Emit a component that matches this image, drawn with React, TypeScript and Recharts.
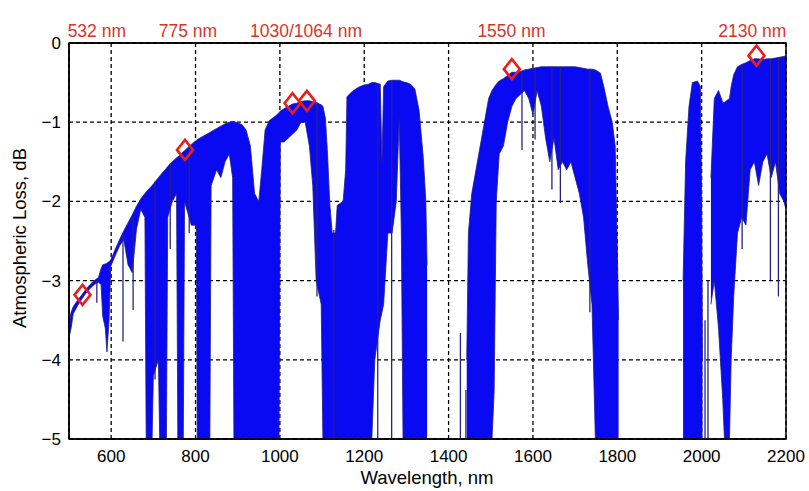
import React from "react";
import {
  Area,
  CartesianGrid,
  ComposedChart,
  ReferenceArea,
  ReferenceLine,
  Scatter,
  XAxis,
  YAxis,
} from "recharts";

// spectrum envelope (null = no trace)
const wavelength = [
  500, 505, 510, 520, 532, 540, 550, 560, 570, 576,
  580, 586, 590, 595, 599, 610, 620, 630, 640, 650,
  660, 670, 680, 683, 697, 700, 712, 715, 731, 734,
  745, 755, 758, 771, 774, 790, 802, 804, 834, 837,
  850, 860, 870, 880, 888, 891, 900, 910, 920, 930,
  940, 950, 957, 965, 975, 990, 998, 1001, 1010, 1020,
  1030, 1040, 1050, 1060, 1070, 1078, 1086, 1098, 1102, 1108,
  1113, 1118, 1124, 1132, 1136, 1150, 1156, 1159, 1170, 1180,
  1190, 1200, 1210, 1218, 1225, 1238, 1242, 1246, 1256, 1266,
  1276, 1283, 1288, 1292, 1300, 1310, 1320, 1330, 1340, 1346,
  1349, 1400,
  1443, 1447, 1455, 1465, 1475, 1485, 1495, 1503, 1508, 1513,
  1520, 1530, 1540, 1550, 1560, 1570, 1580, 1590, 1600, 1610,
  1620, 1630, 1640, 1650, 1660, 1670, 1680, 1690, 1700, 1710,
  1720, 1730, 1740, 1748, 1760, 1768, 1778, 1788, 1795, 1800,
  1803, 1880,
  1956, 1962, 1970, 1978, 1990, 1997, 2000, 2002, 2010, 2022,
  2030, 2040, 2050, 2054, 2066, 2070, 2076, 2085, 2095, 2105,
  2115, 2125, 2135, 2145, 2155, 2165, 2175, 2185, 2195, 2200,
];
const upper = [
  -3.55, -3.4, -3.33, -3.25, -3.17, -3.11, -3.05, -3.0, -2.96, -2.85,
  -2.8, -2.79, -2.78, -2.76, -2.74, -2.6, -2.48, -2.37, -2.27, -2.17,
  -2.06, -1.97, -1.9, -1.88, -1.8, -1.78, -1.7, -1.68, -1.58, -1.56,
  -1.5, -1.45, -1.44, -1.37, -1.36, -1.28, -1.23, -1.22, -1.13, -1.12,
  -1.08, -1.05, -1.02, -1.0, -0.99, -0.99, -1.01, -1.03, -1.1, -1.3,
  -1.9, -2.0, -1.6, -1.1, -0.98, -0.92, -0.88, -0.86, -0.83, -0.8,
  -0.77, -0.76, -0.74, -0.73, -0.73, -0.74, -0.75, -0.78, -0.8, -0.95,
  -1.4, -2.0, -2.4, -2.4, -2.05, -2.0, -1.6, -0.68, -0.62, -0.58,
  -0.55, -0.53, -0.52, -0.5, -0.5, -0.52, -1.5, -0.55, -0.48, -0.47,
  -0.47, -0.47, -0.48, -0.49, -0.5, -0.52, -0.58, -0.85, -1.45, -2.0,
  -2.8, null,
  -4.0, -2.4, -1.9, -1.6, -1.3, -1.0, -0.7, -0.6, -0.56, -0.52,
  -0.48, -0.45, -0.41, -0.37, -0.37, -0.36, -0.34, -0.33, -0.32, -0.31,
  -0.3, -0.3, -0.3, -0.3, -0.3, -0.3, -0.3, -0.3, -0.3, -0.31,
  -0.32, -0.33, -0.33, -0.34, -0.38, -0.55, -0.8, -1.0, -1.3, -2.6,
  -3.5, null,
  -3.0, -1.5, -0.8, -0.5, -0.48, -0.55, -2.0, -4.0, null, -1.7,
  -0.7, -0.6, -0.75, -0.75, -0.7, -0.55, -0.4, -0.3, -0.27, -0.25,
  -0.22, -0.2, -0.2, -0.21, -0.2, -0.2, -0.19, -0.18, -0.17, -0.16,
];
const lower = [
  -3.72, -3.6, -3.42, -3.32, -3.22, -3.16, -3.1, -3.05, -3.02, -3.05,
  -3.45, -3.6, -3.9, -3.5, -2.82, -2.68, -2.56, -2.48, -2.8, -2.9,
  -2.35, -2.1, -2.2, -5, -5, -4.2, -4.0, -5, -5, -2.2,
  -2.0, -1.9, -5, -5, -2.0, -2.3, -2.3, -5, -5, -1.8,
  -1.6, -1.7, -1.5, -1.4, -1.7, -5, -5, -5, -5, -5,
  -5, -5, -5, -5, -5, -5, -5, -1.25, -1.25, -1.2,
  -1.15, -1.1, -1.0, -1.0, -1.3, -1.8, -3.0, -3.3, -5, -5,
  -5, -5, -5, -5, -5, -5, -5, -5, -5, -5,
  -5, -5, -5, -5, -4.0, -3.5, -3.4, -3.3, -2.4, -2.4,
  -2.0, -0.95, -2.4, -5, -5, -5, -5, -5, -5, -5,
  -5, null,
  -5, -5, -5, -5, -5, -5, -5, -5, -4.4, -2.0,
  -1.4, -1.3, -1.0, -0.8, -0.7, -0.65, -0.6, -0.7, -0.9, -0.6,
  -0.8, -1.2, -1.5, -1.2, -1.6, -1.5, -1.6, -1.5, -1.7, -1.9,
  -2.2, -2.8, -3.3, -5, -5, -5, -5, -5, -5, -5,
  -5, null,
  -5, -5, -5, -5, -5, -5, -5, -5, null, -3.3,
  -3.0, -3.6, -4.5, -5, -5, -4.0, -3.2, -2.4, -2.2, -2.3,
  -1.6, -1.5, -1.8, -1.5, -1.4, -1.7, -1.5, -1.9, -2.0, -2.1,
];

// single deep absorption lines
const lineWl = [566, 628, 652, 704, 740, 785, 1088, 1128, 1232, 1265, 1428, 1441, 1574, 1605, 1645, 1665, 1735, 2008, 2015, 2096, 2163, 2182];
const lineTop = [-3.0, -2.42, -2.2, -1.75, -1.52, -1.3, -0.75, -2.36, -0.52, -0.48, -3.66, -4.38, -0.36, -0.32, -0.3, -0.3, -0.33, -3.5, -3.0, -0.27, -0.2, -0.18];
const lineBottom = [-3.28, -3.77, -3.37, -4.25, -2.6, -2.4, -3.2, -5, -5, -5, -5, -5, -1.35, -1.22, -1.85, -2.02, -3.4, -5, -5, -2.6, -3.0, -3.2];

const markerWl = [532, 775, 1030, 1064, 1550, 2130];
const markerLoss = [-3.18, -1.35, -0.76, -0.73, -0.33, -0.16];

const labelAt = [566, 782, 1062, 1549, 2120];
const labelText = ["532 nm", "775 nm", "1030/1064 nm", "1550 nm", "2130 nm"];

const xTicks = [600, 800, 1000, 1200, 1400, 1600, 1800, 2000, 2200];
const yTicks = [-5, -4, -3, -2, -1, 0];

const spectrum = wavelength.map((wl, i) => ({
  wl,
  band: upper[i] == null ? null : [lower[i], upper[i]],
}));
const markers = markerWl.map((wl, i) => ({ wl, loss: markerLoss[i] }));

const Diamond = (p: any) => {
  const { cx, cy } = p;
  return (
    <polygon
      points={`${cx},${cy - 10} ${cx + 8},${cy} ${cx},${cy + 10} ${cx - 8},${cy}`}
      fill="none"
      stroke="#e8201c"
      strokeWidth={2.6}
    />
  );
};

const fmtY = (v: number) => (v < 0 ? "\u2212" + Math.abs(v) : String(v));

export default function App() {
  return (
    <div
      style={{
        position: "absolute",
        left: 0,
        top: 0,
        width: 809,
        height: 491,
        background: "#fff",
        fontFamily: "'Liberation Sans', Arial, sans-serif",
      }}
    >
      <ComposedChart
        width={809}
        height={491}
        data={spectrum}
        margin={{ top: 0, right: 23, bottom: 0, left: 29 }}
      >
        <CartesianGrid stroke="#000" strokeWidth={1.3} strokeDasharray="4 3" />
        <XAxis
          dataKey="wl"
          type="number"
          domain={[500, 2200]}
          ticks={xTicks}
          allowDataOverflow
          height={52}
          tickMargin={5}
          tickLine={false}
          axisLine={{ stroke: "#000", strokeWidth: 1.5 }}
          tick={{ fill: "#000", fontSize: 17 }}
        />
        <XAxis
          xAxisId="top"
          dataKey="wl"
          orientation="top"
          type="number"
          domain={[500, 2200]}
          ticks={labelAt}
          interval={0}
          allowDataOverflow
          height={43}
          tickMargin={0}
          tickLine={false}
          axisLine={{ stroke: "#000", strokeWidth: 1.5 }}
          tickFormatter={(v: number) => labelText[labelAt.indexOf(v)]}
          tick={{ fill: "#d8342a", fontSize: 17.5 }}
        />
        <YAxis
          type="number"
          domain={[-5, 0]}
          ticks={yTicks}
          allowDataOverflow
          width={40}
          tickLine={false}
          axisLine={{ stroke: "#000", strokeWidth: 1.5 }}
          tickFormatter={fmtY}
          tick={{ fill: "#000", fontSize: 17 }}
        />
        <Area
          dataKey="band"
          type="linear"
          fill="#0a0af2"
          fillOpacity={1}
          stroke="#1c1c8c"
          strokeWidth={0.8}
          isAnimationActive={false}
        />
        {lineWl.map((wl, i) => (
          <ReferenceLine
            key={wl}
            segment={[
              { x: wl, y: lineTop[i] },
              { x: wl, y: lineBottom[i] },
            ]}
            stroke="#26267e"
            strokeWidth={1.3}
          />
        ))}
        <Scatter
          xAxisId="top"
          data={markers}
          dataKey="loss"
          shape={<Diamond />}
          isAnimationActive={false}
        />
        <ReferenceArea x1={500} x2={2200} y1={-5} y2={0} fill="none" stroke="#000" strokeWidth={1.5} />
      </ComposedChart>
      <div
        style={{
          position: "absolute",
          left: 427,
          top: 478,
          transform: "translate(-50%, -50%)",
          fontSize: 18.5,
          whiteSpace: "nowrap",
        }}
      >
        Wavelength, nm
      </div>
      <div
        style={{
          position: "absolute",
          left: 20,
          top: 238,
          transform: "translate(-50%, -50%) rotate(-90deg)",
          fontSize: 18.5,
          whiteSpace: "nowrap",
        }}
      >
        Atmospheric Loss, dB
      </div>
    </div>
  );
}
